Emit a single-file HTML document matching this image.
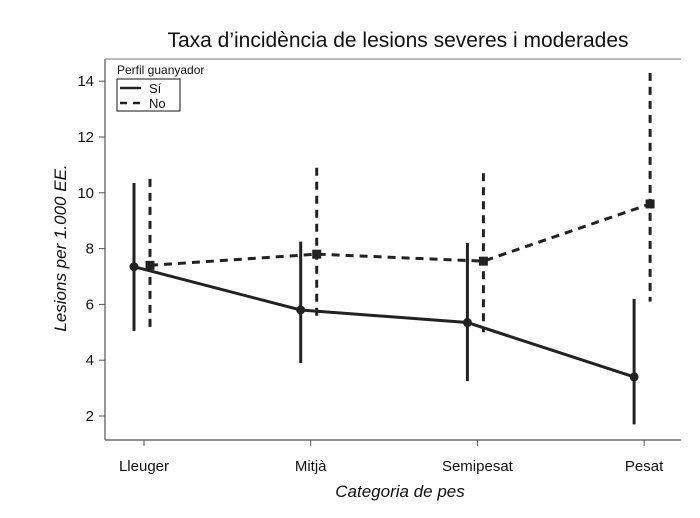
<!DOCTYPE html>
<html><head><meta charset="utf-8"><style>
html,body{margin:0;padding:0;background:#fff;}
svg{display:block;font-family:"Liberation Sans",Arial,sans-serif;}
</style></head><body>
<svg id="chart" width="700" height="518" viewBox="0 0 700 518">
<text x="398" y="47" font-size="21" text-anchor="middle" fill="#111">Taxa d’incidència de lesions severes i moderades</text>
<text x="0" y="0" font-size="17" font-style="italic" text-anchor="middle" fill="#111" transform="translate(66,248) rotate(-90)">Lesions per 1.000 EE.</text>
<text x="400" y="497" font-size="17" font-style="italic" text-anchor="middle" fill="#111">Categoria de pes</text>
<line x1="105" y1="59" x2="105" y2="440" stroke="#555" stroke-width="1.2"/>
<line x1="105" y1="59" x2="681" y2="59" stroke="#777" stroke-width="1"/>
<line x1="105" y1="440" x2="681" y2="440" stroke="#555" stroke-width="1.2"/>
<g id="ticks"></g>
<g id="marks"></g>
<g>
<text x="117" y="74" font-size="12" fill="#111">Perfil guanyador</text>
<rect x="117" y="79" width="63" height="32" fill="#fff" stroke="#111" stroke-width="1"/>
<line x1="120" y1="88" x2="141" y2="88" stroke="#222" stroke-width="2.5"/>
<text x="149" y="93" font-size="13" fill="#111">Sí</text>
<line x1="120" y1="103" x2="141" y2="103" stroke="#222" stroke-width="2.5" stroke-dasharray="7,6"/>
<text x="149" y="108" font-size="13" fill="#111">No</text>
</g>
</svg>
<script>
const categories = ["Lleuger","Mitjà","Semipesat","Pesat"];
const siValues = [7.35,5.8,5.35,3.4];
const siLow = [5.05,3.9,3.25,1.7];
const siHigh = [10.35,8.25,8.2,6.2];
const noValues = [7.4,7.8,7.55,9.6];
const noLow = [5.0,5.5,5.0,6.1];
const noHigh = [10.5,10.9,10.7,14.3];
const yTicks = [2,4,6,8,10,12,14];

const NS="http://www.w3.org/2000/svg";
const xCat = i => 144 + i*166.7;
const y = v => 416 - (v-2)*27.9;
function mk(tag, attrs, parent){const e=document.createElementNS(NS,tag);for(const k in attrs)e.setAttribute(k,attrs[k]);parent.appendChild(e);return e;}
const T=document.getElementById('ticks'), M=document.getElementById('marks');
yTicks.forEach(t=>{
  const l=mk('line',{x1:99,x2:105,y1:y(t),y2:y(t),stroke:'#555','stroke-width':1},T);
  
  
  const tx=mk('text',{x:94,y:y(t)+5,'font-size':15,'text-anchor':'end',fill:'#111'},T);
  tx.textContent=t;
  
  
});
categories.forEach((c,i)=>{
  const l=mk('line',{x1:xCat(i),x2:xCat(i),y1:440,y2:446,stroke:'#555','stroke-width':1},T);
  
  
  const tx=mk('text',{x:xCat(i),y:471,'font-size':15,'text-anchor':'middle',fill:'#111'},T);
  tx.textContent=c;
  
  
});
function series(vals, lo, hi, off, dash, name, square){
  const pts=vals.map((v,i)=>(xCat(i)+off)+','+y(v)).join(' ');
  const pl=mk('polyline',{points:pts,fill:'none',stroke:'#222','stroke-width':3,'stroke-dasharray':dash||'none'},M);
  
  
  vals.forEach((v,i)=>{
    const x=xCat(i)+off;
    const e=mk('line',{x1:x,x2:x,y1:y(hi[i]),y2:y(lo[i]),stroke:'#222','stroke-width':3,'stroke-dasharray':dash||'none'},M);
    
    
    let p;
    if(square) p=mk('rect',{x:x-4.5,y:y(v)-4.5,width:9,height:9,fill:'#222'},M);
    else p=mk('circle',{cx:x,cy:y(v),r:4.5,fill:'#222'},M);
    
    
  });
}
series(noValues,noLow,noHigh,6,'8,6','series-no',true);
series(siValues,siLow,siHigh,-10,null,'series-si',false);
</script>
</body></html>
